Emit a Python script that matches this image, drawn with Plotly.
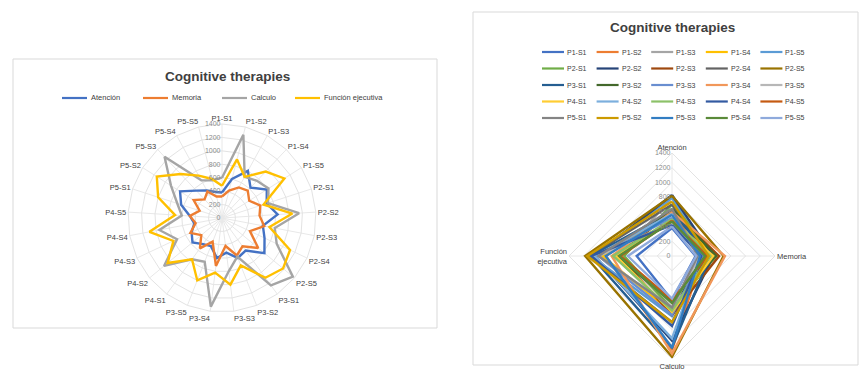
import plotly.graph_objects as go

W, H = 859, 374

# Sessions (patient-session) and cognitive domains
sessions = ["P1-S1", "P1-S2", "P1-S3", "P1-S4", "P1-S5",
            "P2-S1", "P2-S2", "P2-S3", "P2-S4", "P2-S5",
            "P3-S1", "P3-S2", "P3-S3", "P3-S4", "P3-S5",
            "P4-S1", "P4-S2", "P4-S3", "P4-S4", "P4-S5",
            "P5-S1", "P5-S2", "P5-S3", "P5-S4", "P5-S5"]
domains = ["Atención", "Memoria", "Calculo", "Función ejecutiva"]
domain_ticks = ["Atención", "Memoria", "Calculo", "Función<br>ejecutiva"]

# Scores per domain, one value per session
atencion = [380, 600, 800, 620, 790, 700, 830, 620, 700, 820, 600, 640, 520,
            600, 450, 480, 570, 500, 420, 480, 640, 740, 560, 470, 400]
memoria = [320, 420, 520, 560, 480, 600, 560, 640, 460, 700, 520, 600, 420,
           720, 380, 560, 400, 520, 400, 480, 350, 500, 380, 450, 330]
calculo = [600, 1280, 700, 760, 820, 720, 1150, 800, 900, 1370, 1240, 620, 800,
           1330, 700, 760, 1120, 740, 950, 600, 700, 900, 1250, 640, 580]
funcion = [480, 900, 700, 950, 1100, 650, 1050, 720, 1120, 1180, 1100, 760, 1000,
           820, 1000, 760, 1050, 800, 1100, 700, 1000, 1150, 900, 720, 600]

radial_ticks = [0, 200, 400, 600, 800, 1000, 1200, 1400]

domain_colors = ["#4472C4", "#ED7D31", "#A5A5A5", "#FFC000"]
session_colors = ["#4472C4", "#ED7D31", "#A5A5A5", "#FFC000", "#5B9BD5",
                  "#70AD47", "#264478", "#9E480E", "#636363", "#997300",
                  "#255E91", "#43682B", "#698ED0", "#F1975A", "#B7B7B7",
                  "#FFCD33", "#7CAFDD", "#8CC168", "#335AA1", "#C55A11",
                  "#848484", "#CC9A00", "#327DC2", "#5A8A39", "#8FAADC"]

FONT = "Liberation Sans, Arial, sans-serif"
scores = [atencion, memoria, calculo, funcion]

fig = go.Figure()

# Left radar: one line per cognitive domain across all sessions
for name, vals, col in zip(domains, scores, domain_colors):
    fig.add_trace(go.Scatterpolar(
        r=vals + vals[:1], theta=sessions + sessions[:1],
        mode="lines", line=dict(color=col, width=2.4),
        name=name, subplot="polar", showlegend=False))

# Right radar: one line per session across the four domains
for j, (sess, col) in enumerate(zip(sessions, session_colors)):
    vals = [s[j] for s in scores]
    fig.add_trace(go.Scatterpolar(
        r=vals + vals[:1], theta=domain_ticks + domain_ticks[:1],
        mode="lines", line=dict(color=col, width=2.4),
        name=sess, subplot="polar2", showlegend=False))


def px_dom(cx, cy, r):
    return dict(x=[(cx - r) / W, (cx + r) / W],
                y=[(H - cy - r) / H, (H - cy + r) / H])


def polar_style(dom, tick_size):
    return dict(
        domain=dom,
        bgcolor="white",
        gridshape="linear",
        radialaxis=dict(range=[0, 1400], tickvals=radial_ticks, angle=90,
                        tickangle=90, side="counterclockwise", showline=False,
                        ticks="", gridcolor="#E3E3E3", gridwidth=1,
                        tickfont=dict(size=7, color="#8C8C8C", family=FONT)),
        angularaxis=dict(rotation=90, direction="clockwise", ticks="",
                         gridcolor="#E8E8E8", linecolor="#E3E3E3",
                         tickfont=dict(size=tick_size, color="#404040",
                                       family=FONT)),
    )


fig.update_layout(
    width=W, height=H,
    margin=dict(l=0, r=0, t=0, b=0),
    paper_bgcolor="white",
    showlegend=False,
    polar=polar_style(px_dom(222, 218, 94), 7.5),
    polar2=polar_style(px_dom(672, 256, 103), 7.5),
)


def fx(x):
    return x / W


def fy(y):
    return 1 - y / H


shapes = []
annotations = []

# Chart frames
for x0, y0, x1, y1 in [(13, 59, 437, 328), (473, 12, 858, 365)]:
    shapes.append(dict(type="rect", xref="paper", yref="paper",
                       x0=fx(x0), x1=fx(x1), y0=fy(y1), y1=fy(y0),
                       line=dict(color="#D9D9D9", width=1),
                       fillcolor="rgba(0,0,0,0)", layer="below"))

# Titles
for cx, cy in [(227, 76), (672, 28)]:
    annotations.append(dict(text="<b>Cognitive therapies</b>", x=fx(cx), y=fy(cy),
                            xref="paper", yref="paper", showarrow=False,
                            xanchor="center", yanchor="middle",
                            font=dict(size=13.5, color="#404040", family=FONT)))

# Legend for the domain radar
left_keys = [62, 143, 222, 295]
for name, col, x in zip(domains, domain_colors, left_keys):
    shapes.append(dict(type="line", xref="paper", yref="paper",
                       x0=fx(x), x1=fx(x + 25), y0=fy(98), y1=fy(98),
                       line=dict(color=col, width=2.2)))
    annotations.append(dict(text=name, x=fx(x + 27), y=fy(98), xref="paper",
                            yref="paper", showarrow=False, xanchor="left",
                            yanchor="middle",
                            font=dict(size=7.5, color="#404040", family=FONT)))

# Legend for the session radar (5 x 5 grid)
for j, (sess, col) in enumerate(zip(sessions, session_colors)):
    row, c = divmod(j, 5)
    x = 542 + c * 54.6
    y = 52 + row * 16.5
    shapes.append(dict(type="line", xref="paper", yref="paper",
                       x0=fx(x), x1=fx(x + 22), y0=fy(y), y1=fy(y),
                       line=dict(color=col, width=2.2)))
    annotations.append(dict(text=sess, x=fx(x + 23), y=fy(y), xref="paper",
                            yref="paper", showarrow=False, xanchor="left",
                            yanchor="middle",
                            font=dict(size=7, color="#404040", family=FONT)))

fig.update_layout(shapes=shapes, annotations=annotations)
fig.write_html("out.html")
